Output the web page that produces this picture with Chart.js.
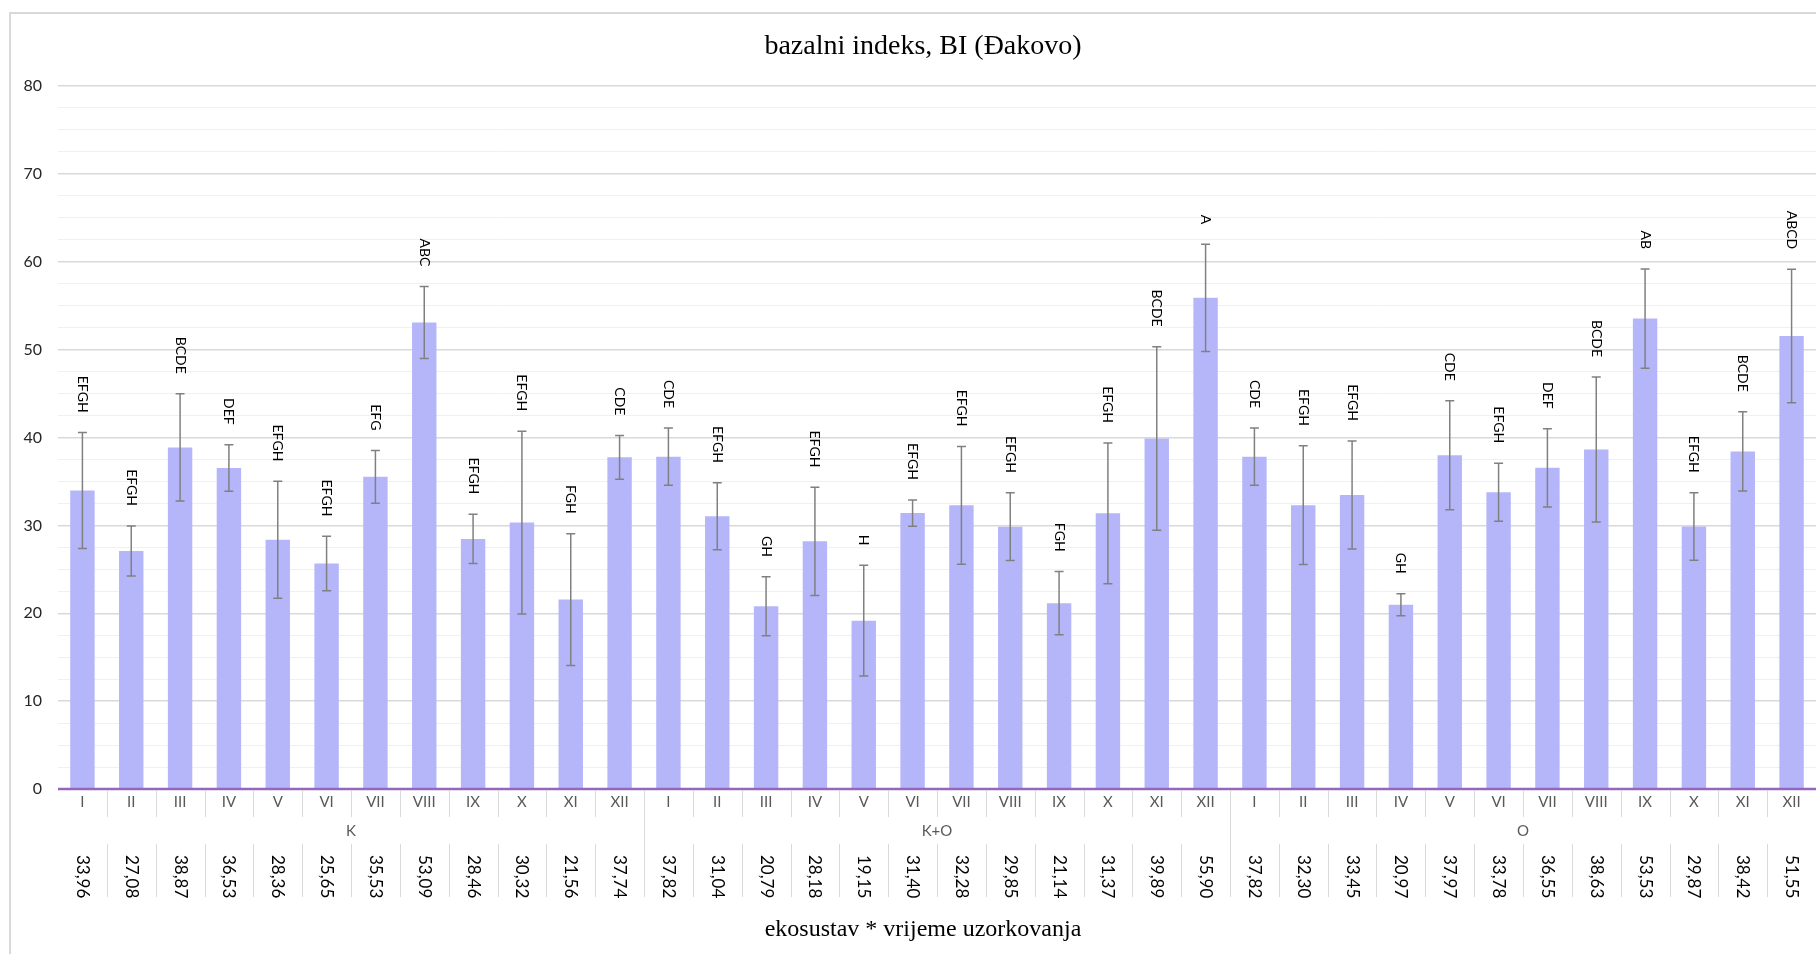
<!DOCTYPE html>
<html>
<head>
<meta charset="utf-8">
<title>bazalni indeks, BI (Đakovo)</title>
<script src="https://cdn.jsdelivr.net/npm/chart.js@4"></script>
<style>
  html, body { margin: 0; padding: 0; background: #fff; overflow: hidden; }
  #wrap { width: 1816px; height: 954px; position: relative; }
</style>
</head>
<body>
<div id="wrap"><canvas id="chart" width="1816" height="954"></canvas></div>
<script>
// podaci
const groups = ['K', 'K+O', 'O'];
const months = ['I', 'II', 'III', 'IV', 'V', 'VI', 'VII', 'VIII', 'IX', 'X', 'XI', 'XII'];

const meansK = [33.96, 27.08, 38.87, 36.53, 28.36, 25.65, 35.53, 53.09, 28.46, 30.32, 21.56, 37.74];
const meansKO = [37.82, 31.04, 20.79, 28.18, 19.15, 31.40, 32.28, 29.85, 21.14, 31.37, 39.89, 55.90];
const meansO = [37.82, 32.30, 33.45, 20.97, 37.97, 33.78, 36.55, 38.63, 53.53, 29.87, 38.42, 51.55];

const errK = [6.6, 2.85, 6.1, 2.65, 6.65, 3.1, 3.0, 4.1, 2.8, 10.4, 7.5, 2.5];
const errKO = [3.25, 3.8, 3.35, 6.15, 6.3, 1.5, 6.7, 3.85, 3.6, 8.0, 10.45, 6.1];
const errO = [3.25, 6.75, 6.15, 1.25, 6.2, 3.3, 4.45, 8.25, 5.65, 3.85, 4.5, 7.6];

const lettersK = ['EFGH', 'EFGH', 'BCDE', 'DEF', 'EFGH', 'EFGH', 'EFG', 'ABC', 'EFGH', 'EFGH', 'FGH', 'CDE'];
const lettersKO = ['CDE', 'EFGH', 'GH', 'EFGH', 'H', 'EFGH', 'EFGH', 'EFGH', 'FGH', 'EFGH', 'BCDE', 'A'];
const lettersO = ['CDE', 'EFGH', 'EFGH', 'GH', 'CDE', 'EFGH', 'DEF', 'BCDE', 'AB', 'EFGH', 'BCDE', 'ABCD'];

const yTicksMax = 80;

// spajanje u jedan niz
const means = meansK.concat(meansKO, meansO);
const errors = errK.concat(errKO, errO);
const letters = lettersK.concat(lettersKO, lettersO);
const labels = [];
groups.forEach(g => months.forEach(m => labels.push(g + ' ' + m)));

const SANS = 'Lato, "Noto Sans", sans-serif';
const SERIF = '"Liberation Serif", "DejaVu Serif", serif';

// okvir, naslovi, osi
const extrasPlugin = {
    id: 'extras',
    beforeDraw(chart) {
        const ctx = chart.ctx;
        ctx.save();
        ctx.strokeStyle = '#d9d9d9';
        ctx.lineWidth = 2;
        ctx.beginPath();
        ctx.moveTo(10, 960);
        ctx.lineTo(10, 13);
        ctx.lineTo(1830, 13);
        ctx.stroke();
        ctx.restore();
    },
    afterDatasetsDraw(chart) {
        const ctx = chart.ctx;
        const x = chart.scales.x;
        const y = chart.scales.y;
        ctx.save();

        // error bars
        ctx.strokeStyle = '#808080';
        ctx.lineWidth = 1.5;
        means.forEach((m, i) => {
            const cx = x.getPixelForValue(i);
            const top = y.getPixelForValue(m + errors[i]);
            const bot = y.getPixelForValue(m - errors[i]);
            ctx.beginPath();
            ctx.moveTo(cx, top);
            ctx.lineTo(cx, bot);
            ctx.moveTo(cx - 4.5, top);
            ctx.lineTo(cx + 4.5, top);
            ctx.moveTo(cx - 4.5, bot);
            ctx.lineTo(cx + 4.5, bot);
            ctx.stroke();
        });

        // slova
        ctx.fillStyle = '#000';
        ctx.font = '14px ' + SANS;
        ctx.textAlign = 'right';
        ctx.textBaseline = 'middle';
        letters.forEach((t, i) => {
            const cx = x.getPixelForValue(i);
            const top = y.getPixelForValue(means[i] + errors[i]);
            ctx.save();
            ctx.translate(cx, top - 20);
            ctx.rotate(Math.PI / 2);
            ctx.fillText(t, 0, 0);
            ctx.restore();
        });

        // os x
        ctx.strokeStyle = '#9467bd';
        ctx.lineWidth = 2.5;
        ctx.beginPath();
        ctx.moveTo(chart.chartArea.left, y.getPixelForValue(0));
        ctx.lineTo(chart.chartArea.right, y.getPixelForValue(0));
        ctx.stroke();
        ctx.restore();
    },
    afterDraw(chart) {
        const ctx = chart.ctx;
        const x = chart.scales.x;
        const axisY = chart.chartArea.bottom;
        const half = (x.getPixelForValue(1) - x.getPixelForValue(0)) / 2;
        ctx.save();

        // separatori
        ctx.strokeStyle = '#d9d9d9';
        ctx.lineWidth = 1;
        for (let i = 1; i < means.length; i++) {
            const bx = Math.round(x.getPixelForValue(i) - half) + 0.5;
            ctx.beginPath();
            if (i % months.length === 0) {
                ctx.moveTo(bx, axisY + 1);
                ctx.lineTo(bx, axisY + 108);
            } else {
                ctx.moveTo(bx, axisY + 1);
                ctx.lineTo(bx, axisY + 28);
                ctx.moveTo(bx, axisY + 55);
                ctx.lineTo(bx, axisY + 108);
            }
            ctx.stroke();
        }

        // mjeseci
        ctx.fillStyle = '#595959';
        ctx.font = '15px ' + SANS;
        ctx.textAlign = 'center';
        ctx.textBaseline = 'middle';
        labels.forEach((l, i) => {
            ctx.fillText(months[i % months.length], x.getPixelForValue(i), axisY + 13);
        });

        // grupe
        groups.forEach((g, gi) => {
            const a = x.getPixelForValue(gi * months.length);
            const b = x.getPixelForValue(gi * months.length + months.length - 1);
            ctx.fillText(g, (a + b) / 2, axisY + 42);
        });

        // vrijednosti
        ctx.fillStyle = '#000';
        ctx.font = '17px ' + SANS;
        ctx.textAlign = 'left';
        means.forEach((m, i) => {
            ctx.save();
            ctx.translate(x.getPixelForValue(i), axisY + 66);
            ctx.rotate(Math.PI / 2);
            ctx.fillText(m.toFixed(2).replace('.', ','), 0, 0);
            ctx.restore();
        });

        // naslovi
        ctx.font = '28px ' + SERIF;
        ctx.textAlign = 'center';
        ctx.fillText('bazalni indeks, BI (Đakovo)', 923, 47);
        ctx.font = '24px ' + SERIF;
        ctx.fillText('ekosustav * vrijeme uzorkovanja', 923, 930);
        ctx.restore();
    }
};

new Chart(document.getElementById('chart').getContext('2d'), {
    type: 'bar',
    data: {
        labels: labels,
        datasets: [{
            label: 'BI',
            data: means,
            backgroundColor: '#b5b6fa',
            borderWidth: 0,
            categoryPercentage: 1,
            barPercentage: 0.5
        }]
    },
    options: {
        responsive: false,
        animation: false,
        layout: { padding: { top: 86, left: 0, right: 0, bottom: 0 } },
        plugins: {
            legend: { display: false },
            tooltip: { enabled: false },
            title: { display: false }
        },
        scales: {
            x: {
                grid: { display: false },
                border: { display: false },
                ticks: { display: false },
                afterFit: scale => { scale.height = 165; }
            },
            y: {
                min: 0,
                max: yTicksMax,
                ticks: {
                    stepSize: 2.5,
                    autoSkip: false,
                    padding: 16,
                    color: '#262626',
                    font: { family: SANS, size: 16 },
                    callback: v => (v % 10 === 0 ? v : '')
                },
                grid: {
                    drawTicks: false,
                    color: c => (c.tick && c.tick.value % 10 === 0 ? '#d9d9d9' : '#f0f0f0'),
                    lineWidth: c => (c.tick && c.tick.value % 10 === 0 ? 1.5 : 1)
                },
                border: { display: false },
                afterFit: scale => { scale.width = 58; }
            }
        }
    },
    plugins: [extrasPlugin]
});
</script>
</body>
</html>
